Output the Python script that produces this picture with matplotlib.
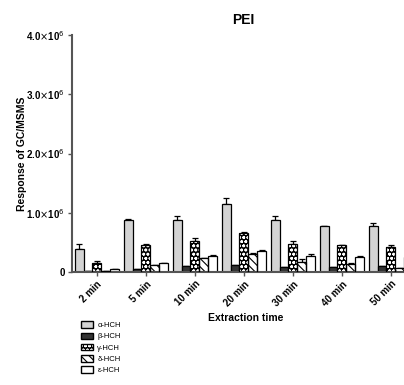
import matplotlib.pyplot as plt
import numpy as np
from matplotlib.patches import Patch
from matplotlib.legend_handler import HandlerTuple

plt.rcParams['font.family'] = ['Liberation Sans', 'DejaVu Sans']
plt.rcParams['hatch.linewidth'] = 0.8

times = ["2 min", "5 min", "10 min", "20 min", "30 min", "40 min", "50 min"]
series = ["α-HCH", "β-HCH", "γ-HCH", "δ-HCH", "ε-HCH"]

# responses (x1e6) and upper error
alpha = [0.39, 0.87, 0.87, 1.15, 0.87, 0.77, 0.77]
alpha_err = [0.09, 0.02, 0.07, 0.10, 0.08, 0.01, 0.06]
beta = [0.01, 0.05, 0.095, 0.12, 0.09, 0.09, 0.095]
beta_err = [0.0, 0.0, 0.0, 0.0, 0.0, 0.0, 0.0]
gamma = [0.15, 0.46, 0.53, 0.66, 0.48, 0.45, 0.42]
gamma_err = [0.04, 0.01, 0.04, 0.01, 0.05, 0.0, 0.03]
delta = [0.02, 0.11, 0.24, 0.31, 0.17, 0.13, 0.075]
delta_err = [0.0, 0.0, 0.0, 0.01, 0.05, 0.02, 0.0]
epsilon = [0.05, 0.15, 0.27, 0.36, 0.27, 0.26, 0.25]
epsilon_err = [0.005, 0.005, 0.01, 0.01, 0.03, 0.01, 0.0]

values = [alpha, beta, gamma, delta, epsilon]
errors = [alpha_err, beta_err, gamma_err, delta_err, epsilon_err]

styles = [
    dict(fc="#d3d3d3", hatch=None, hc=None),
    dict(fc="#333333", hatch=None, hc=None),
    dict(fc="black", hatch="oooo", hc="white"),
    dict(fc="white", hatch="\\\\\\\\", hc="black"),
    dict(fc="white", hatch=None, hc=None),
]

fig = plt.figure(figsize=(4.04, 3.85), dpi=100)
ax = fig.add_axes([0.178, 0.2935, 0.849, 0.6155])

x = np.arange(len(times))
w = 0.18
for i, (vals, errs, st) in enumerate(zip(values, errors, styles)):
    pos = x + (i - 2) * w
    v = np.array(vals) * 1e6
    e = np.array(errs) * 1e6
    if st["hatch"]:
        ax.bar(pos, v, w, color=st["fc"], edgecolor=st["hc"], hatch=st["hatch"],
               linewidth=0, zorder=2)
        ax.bar(pos, v, w, fill=False, edgecolor="black", linewidth=0.9, zorder=3)
    else:
        ax.bar(pos, v, w, color=st["fc"], edgecolor="black", linewidth=0.9, zorder=2)
    ax.errorbar(pos, v, yerr=[np.zeros_like(e), e], fmt="none", ecolor="black",
                elinewidth=0.9, capsize=2.5, capthick=0.9, zorder=1)

ax.set_xlim(-0.51, 6.49)
ax.set_ylim(0, 4.0e6)
ax.set_yticks([0, 1e6, 2e6, 3e6, 4e6])
ax.set_yticklabels(["0", r"1.0$\times$10$^{6}$", r"2.0$\times$10$^{6}$",
                    r"3.0$\times$10$^{6}$", r"4.0$\times$10$^{6}$"],
                   fontweight="bold", fontsize=7)
ax.set_xticks(x)
ax.set_xticklabels(times, rotation=45, ha="right", rotation_mode="anchor",
                   fontweight="bold", fontsize=7)

for s in ["top", "right"]:
    ax.spines[s].set_visible(False)
for s in ["left", "bottom"]:
    ax.spines[s].set_color("#555555")
    ax.spines[s].set_linewidth(1.5)
ax.tick_params(axis="both", direction="out", length=3, width=1, color="#555555", pad=2)

ax.set_title("PEI", fontweight="bold", fontsize=10, pad=8)
ax.set_ylabel("Response of GC/MSMS", fontweight="bold", fontsize=7.5)
ax.yaxis.set_label_coords(-0.131, 0.5)
fig.text(0.607, 0.175, "Extraction time", fontweight="bold", fontsize=7.5,
         ha="center", va="center")

handles = []
for lab, st in zip(series, styles):
    if st["hc"] == "white":
        handles.append((Patch(facecolor="black", edgecolor="white", hatch=st["hatch"], lw=0),
                        Patch(fill=False, edgecolor="black")))
    else:
        handles.append(Patch(facecolor=st["fc"], edgecolor="black", hatch=st["hatch"]))
fig.legend(handles=handles, labels=series, loc="upper left", bbox_to_anchor=(0.19, 0.175),
           frameon=False, fontsize=5.5, handlelength=1.6, handleheight=0.9,
           labelspacing=0.45, handletextpad=0.6, borderpad=0,
           handler_map={tuple: HandlerTuple(ndivide=1, pad=0)})

fig.savefig("out.png", dpi=100)
